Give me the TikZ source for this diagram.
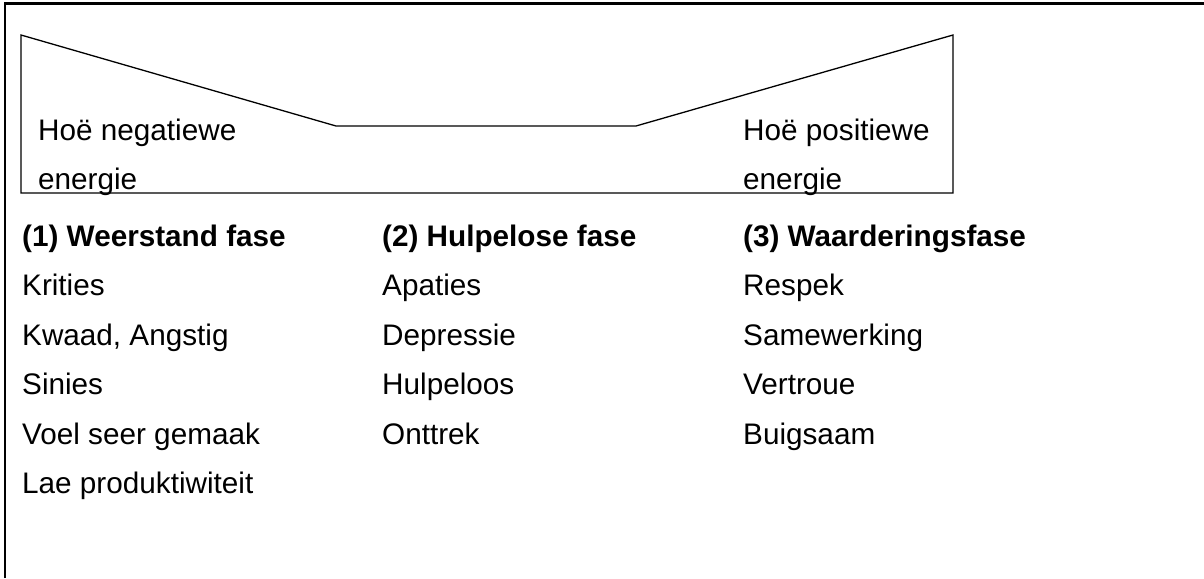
\documentclass[tikz,border=0pt]{standalone}
\usepackage{fontspec}
\setmainfont{Liberation Sans}
\begin{document}
\begin{tikzpicture}[x=1pt,y=-1pt,
  lbl/.style={anchor=base west, inner sep=0pt, font=\fontsize{29.7}{35}\selectfont},
  head/.style={lbl, font=\fontsize{29.7}{35}\selectfont\bfseries},
  frameline/.style={line width=2.5pt},
  energyline/.style={line width=1.3pt, line join=miter}]
  \useasboundingbox (0,0) rectangle (1204,578);

  % outer frame (top and left sides)
  \draw[frameline] (5,578) -- (5,3.3) -- (1204,3.3);

  % energy curve: falls from negative, flat through the trough, rises to positive
  \draw[energyline] (21,193) -- (21,35) -- (336,126) -- (636,126) -- (953,35) -- (953,193) -- cycle;

  \node[lbl] (neg1) at (38,140) {Hoë negatiewe};
  \node[lbl] (neg2) at (38,189) {energie};
  \node[lbl] (pos1) at (743,140) {Hoë positiewe};
  \node[lbl] (pos2) at (743,189) {energie};

  % phase 1
  \node[head] (h1) at (22,246) {(1) Weerstand fase};
  \node[lbl] (a1) at (22,295.5) {Krities};
  \node[lbl] (a2) at (22,345) {Kwaad, Angstig};
  \node[lbl] (a3) at (22,394.5) {Sinies};
  \node[lbl] (a4) at (22,444) {Voel seer gemaak};
  \node[lbl] (a5) at (22,493.5) {Lae produktiwiteit};

  % phase 2
  \node[head] (h2) at (382,246) {(2) Hulpelose fase};
  \node[lbl] (b1) at (382,295.5) {Apaties};
  \node[lbl] (b2) at (382,345) {Depressie};
  \node[lbl] (b3) at (382,394.5) {Hulpeloos};
  \node[lbl] (b4) at (382,444) {Onttrek};

  % phase 3
  \node[head] (h3) at (743,246) {(3) Waarderingsfase};
  \node[lbl] (c1) at (743,295.5) {Respek};
  \node[lbl] (c2) at (743,345) {Samewerking};
  \node[lbl] (c3) at (743,394.5) {Vertroue};
  \node[lbl] (c4) at (743,444) {Buigsaam};
\end{tikzpicture}
\end{document}
